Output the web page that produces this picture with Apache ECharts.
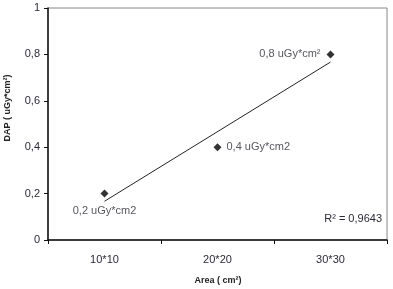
<!DOCTYPE html>
<html><head><meta charset="utf-8">
<script src="https://cdn.jsdelivr.net/npm/echarts@6/dist/echarts.min.js"></script>
<style>html,body{margin:0;padding:0;background:#fff}#c{width:393px;height:289px}</style>
</head><body><div id="c"></div>
<script>
const categories = ['10*10', '20*20', '30*30'];
const dapValues = [0.2, 0.4, 0.8];
const pointLabels = ['0,2 uGy*cm2', '0,4 uGy*cm2', '0,8 uGy*cm\u00B2'];
const trendValues = [0.167, 0.767];
const yTicks = ['0', '0,2', '0,4', '0,6', '0,8', '1'];
const r2Text = 'R\u00B2 = 0,9643';

const chart = echarts.init(document.getElementById('c'));
const font = 'Liberation Sans, Arial, sans-serif';
const txt = '#2a2a35';
const labelPos = [
  {position: 'bottom', distance: 8},
  {position: 'right', distance: 5},
  {position: 'left', distance: 6}
];
chart.setOption({
  animation: false,
  grid: {left: 48, right: 6, top: 8, bottom: 49, show: true, borderColor: '#888', borderWidth: 1},
  xAxis: {
    type: 'category', data: categories, boundaryGap: true,
    axisLine: {lineStyle: {color: '#111', width: 1.5}},
    axisTick: {show: true, alignWithLabel: false, length: 4, lineStyle: {color: '#111'}},
    axisLabel: {color: txt, fontFamily: font, fontSize: 11, margin: 14}
  },
  yAxis: {
    type: 'value', min: 0, max: 1, interval: 0.2,
    splitLine: {show: false},
    axisLine: {show: true, lineStyle: {color: '#111', width: 1.5}},
    axisTick: {show: true, length: 4, lineStyle: {color: '#111'}},
    axisLabel: {color: txt, fontFamily: font, fontSize: 11, margin: 8,
      formatter: (v) => yTicks[Math.round(v / 0.2)]}
  },
  graphic: [
    {type: 'text', position: [218, 276], style: {text: 'Area ( cm\u00B2)', font: 'bold 9px ' + font, fill: '#222', textAlign: 'center'}},
    {type: 'text', rotation: Math.PI / 2, position: [3, 108], style: {text: 'DAP ( uGy*cm\u00B2)', font: 'bold 9px ' + font, fill: '#222', textAlign: 'center'}},
    {type: 'text', position: [382, 213], style: {text: r2Text, font: '11px ' + font, fill: txt, textAlign: 'right'}}
  ],
  series: [
    {
      type: 'line', data: [[0, trendValues[0]], [2, trendValues[1]]],
      symbol: 'none', lineStyle: {color: '#222', width: 1}, z: 1
    },
    {
      type: 'scatter', symbol: 'diamond', symbolSize: 8, z: 3,
      itemStyle: {color: '#000'},
      data: dapValues.map((v, i) => ({
        value: [i, v],
        label: {show: true, formatter: pointLabels[i], color: txt, fontFamily: font, fontSize: 11,
          position: labelPos[i].position, distance: labelPos[i].distance}
      }))
    }
  ]
});
</script></body></html>
